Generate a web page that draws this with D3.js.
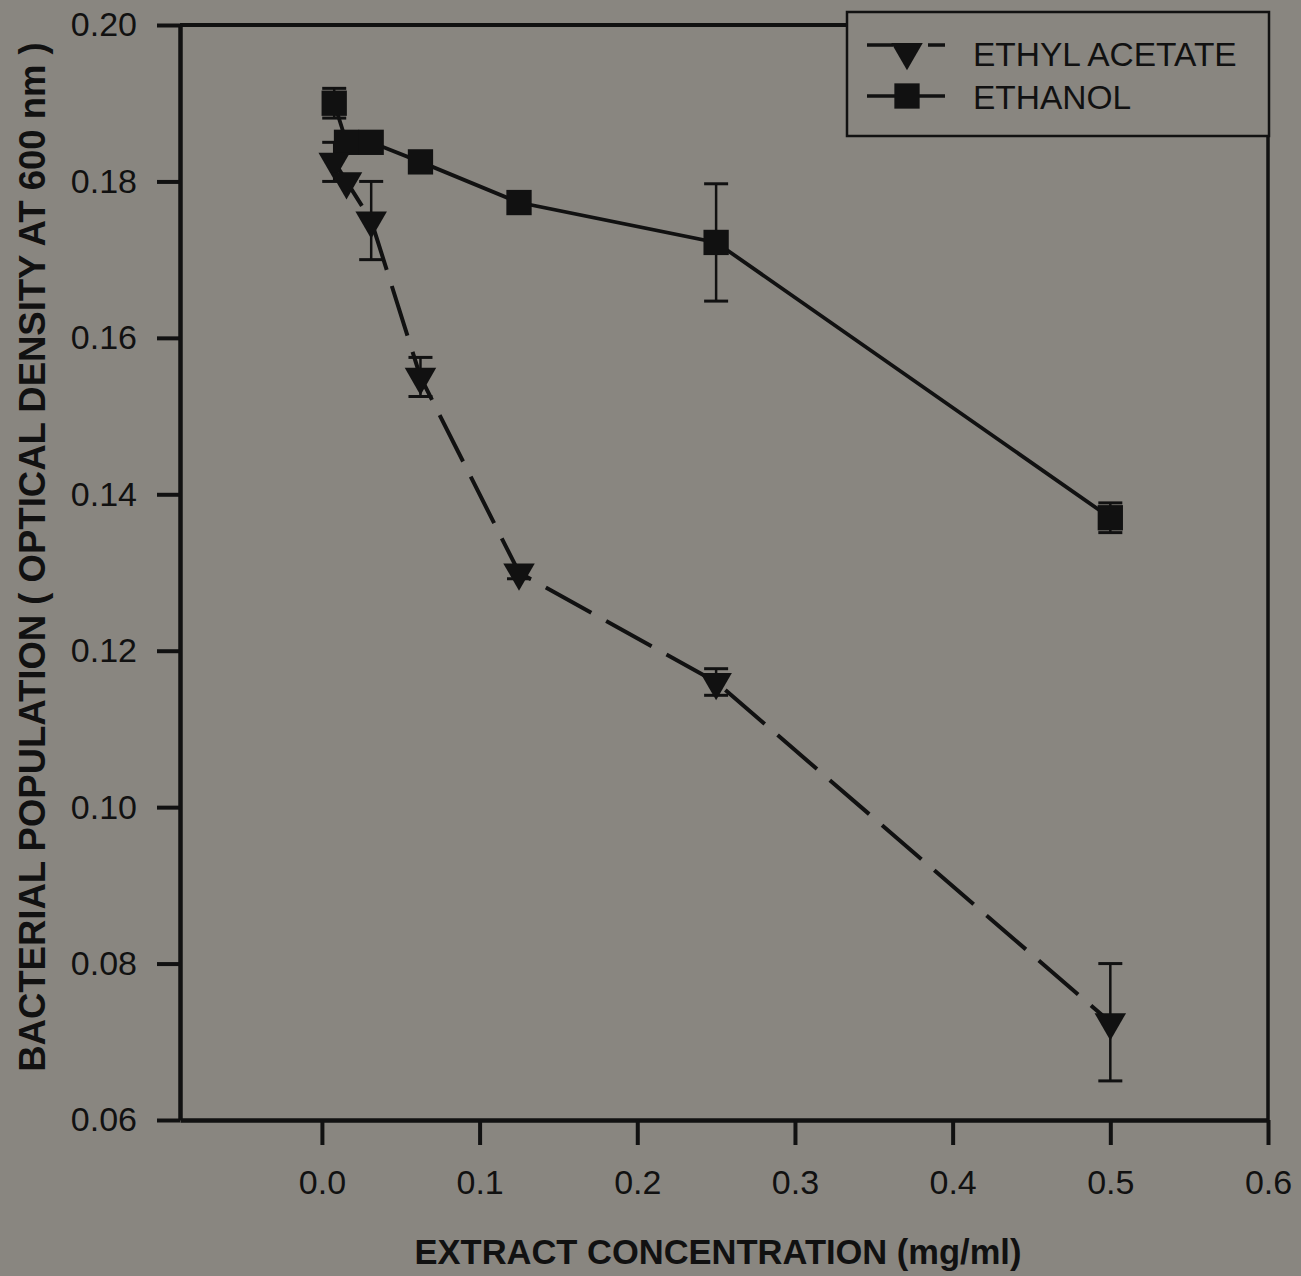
<!DOCTYPE html>
<html>
<head>
<meta charset="utf-8">
<script src="https://cdn.jsdelivr.net/npm/d3@7"></script>
<style>
  html, body { margin: 0; padding: 0; background: #898680; }
  svg { display: block; }
  text { font-family: "Liberation Sans", Arial, sans-serif; fill: #111; }
</style>
</head>
<body>
<svg id="chart" width="1301" height="1276"></svg>
<script>
// ---- data ----
const concentrations = [0.0078, 0.0156, 0.03125, 0.0625, 0.125, 0.25, 0.5];
const ethylAcetate = [0.1825, 0.1800, 0.1750, 0.1550, 0.1300, 0.1160, 0.0725];
const ethylAcetateErr = [0.0025, 0.0, 0.0050, 0.0025, 0.0008, 0.0017, 0.0075];
const ethanol = [0.1900, 0.1850, 0.1850, 0.1825, 0.1773, 0.1722, 0.1370];
const ethanolErr = [0.0019, 0.0, 0.0, 0.0, 0.0, 0.0075, 0.0019];
const xTicks = [0.0, 0.1, 0.2, 0.3, 0.4, 0.5, 0.6];
const yTicks = [0.06, 0.08, 0.10, 0.12, 0.14, 0.16, 0.18, 0.20];
const seriesNames = ["ETHYL ACETATE", "ETHANOL"];
const xTitle = "EXTRACT CONCENTRATION (mg/ml)";
const yTitle = "BACTERIAL POPULATION ( OPTICAL DENSITY AT 600 nm )";

const ink = "#111";
const bg = "#898680";
const svg = d3.select("#chart");

const x = d3.scaleLinear().domain([-0.09, 0.6]).range([180, 1268]);
const y = d3.scaleLinear().domain([0.06, 0.20]).range([1120, 25]);

// frame (top + right)
svg.append("line").attr("x1", x.range()[0]).attr("x2", x.range()[1])
  .attr("y1", y(0.20)).attr("y2", y(0.20)).attr("stroke", ink).attr("stroke-width", 4);
svg.append("line").attr("x1", x(0.6)).attr("x2", x(0.6))
  .attr("y1", y(0.20)).attr("y2", y(0.06)).attr("stroke", ink).attr("stroke-width", 3.5);

// axes
const yAxis = svg.append("g").attr("transform", `translate(${x.range()[0]},0)`)
  .call(d3.axisLeft(y).tickValues(yTicks).tickFormat(d3.format(".2f")).tickSize(23).tickSizeOuter(0).tickPadding(20));
const xAxis = svg.append("g").attr("transform", `translate(0,${y(0.06)})`)
  .call(d3.axisBottom(x).tickValues(xTicks).tickFormat(d3.format(".1f")).tickSize(25).tickSizeOuter(0).tickPadding(25));
[yAxis, xAxis].forEach(g => {
  g.select(".domain").attr("stroke", ink).attr("stroke-width", 4.5);
  g.selectAll(".tick line").attr("stroke", ink).attr("stroke-width", 4);
  g.selectAll(".tick text").attr("font-size", 34).attr("fill", ink)
    .style("font-family", '"Liberation Sans", Arial, sans-serif');
});

// titles
svg.append("text").attr("x", 718).attr("y", 1264).attr("text-anchor", "middle")
  .attr("font-size", 34.5).attr("font-weight", "bold").text(xTitle);
svg.append("text").attr("transform", "translate(45,557) rotate(-90)").attr("text-anchor", "middle")
  .attr("font-size", 36.5).attr("font-weight", "bold").text(yTitle);

const line = d3.line().x(d => x(d[0])).y(d => y(d[1]));
const ethData = concentrations.map((c, i) => [c, ethylAcetate[i], ethylAcetateErr[i]]);
const etoData = concentrations.map((c, i) => [c, ethanol[i], ethanolErr[i]]);

// lines
svg.append("path").datum(etoData).attr("d", line).attr("fill", "none")
  .attr("stroke", ink).attr("stroke-width", 3.8);
svg.append("path").datum(ethData).attr("d", line).attr("fill", "none")
  .attr("stroke", ink).attr("stroke-width", 4).attr("stroke-dasharray", "52,17");

// error bars
function errorBars(data) {
  const g = svg.append("g").attr("stroke", ink).attr("stroke-width", 2.5);
  data.filter(d => d[2] > 0).forEach(d => {
    const cx = x(d[0]);
    g.append("line").attr("x1", cx).attr("x2", cx).attr("y1", y(d[1] - d[2])).attr("y2", y(d[1] + d[2]));
    [d[1] - d[2], d[1] + d[2]].forEach(v => {
      g.append("line").attr("x1", cx - 12).attr("x2", cx + 12).attr("y1", y(v)).attr("y2", y(v)).attr("stroke-width", 3);
    });
  });
}
errorBars(ethData);
errorBars(etoData);

// markers
const tri = d3.symbol().type(d3.symbolTriangle).size(430);
const sq = d3.symbol().type(d3.symbolSquare).size(640);
svg.append("g").selectAll("path").data(etoData).join("path")
  .attr("d", sq).attr("transform", d => `translate(${x(d[0])},${y(d[1])})`).attr("fill", ink);
svg.append("g").selectAll("path").data(ethData).join("path")
  .attr("d", tri).attr("transform", d => `translate(${x(d[0])},${y(d[1])}) rotate(180)`).attr("fill", ink);

// legend
const lg = svg.append("g");
lg.append("rect").attr("x", 847).attr("y", 12).attr("width", 422).attr("height", 124)
  .attr("fill", bg).attr("stroke", ink).attr("stroke-width", 2.5);
lg.append("line").attr("x1", 867).attr("x2", 945).attr("y1", 45).attr("y2", 45)
  .attr("stroke", ink).attr("stroke-width", 3.5).attr("stroke-dasharray", "26,35,17");
lg.append("path").attr("d", tri).attr("transform", "translate(907,52) rotate(180)").attr("fill", ink);
lg.append("line").attr("x1", 867).attr("x2", 945).attr("y1", 96).attr("y2", 96)
  .attr("stroke", ink).attr("stroke-width", 3.5);
lg.append("path").attr("d", sq).attr("transform", "translate(907,96)").attr("fill", ink);
lg.selectAll("text.lt").data(seriesNames).join("text").attr("class", "lt")
  .attr("x", 973).attr("y", (d, i) => 66 + i * 43).attr("font-size", 33.5).text(d => d);
</script>
</body>
</html>
